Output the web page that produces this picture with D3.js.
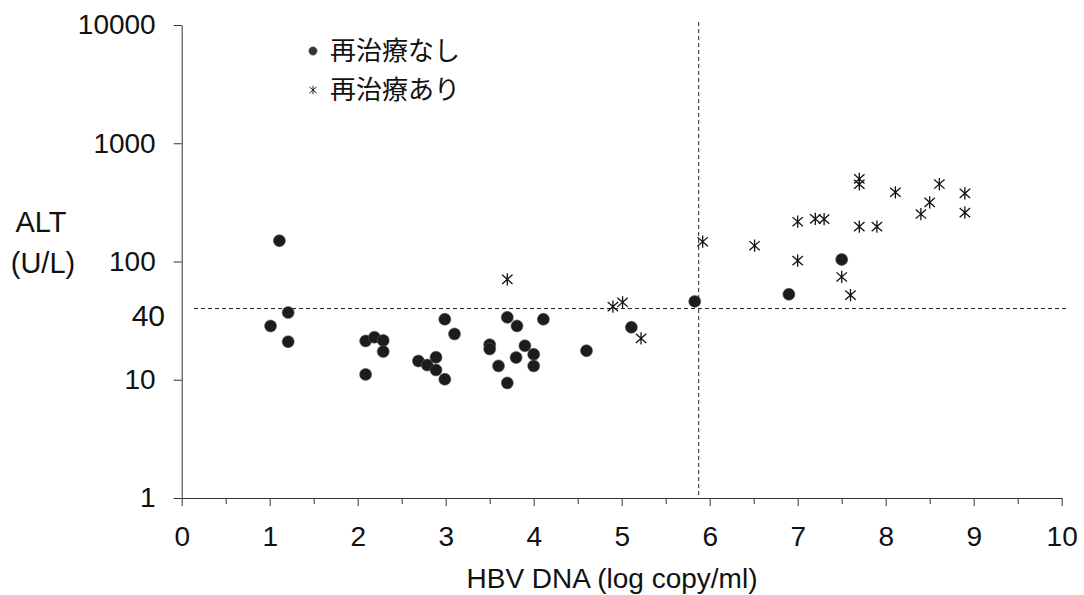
<!DOCTYPE html>
<html>
<head>
<meta charset="utf-8">
<script src="https://cdn.jsdelivr.net/npm/d3@7"></script>
<style>
  body { margin: 0; background: #fff; }
  svg { display: block; }
  text { font-family: "Liberation Sans", Arial, sans-serif; fill: #111; }
  .jp { font-family: "Noto Sans CJK JP", "Liberation Sans", sans-serif; }
  .axis path, .axis line { stroke: #333; stroke-width: 1; }
</style>
</head>
<body>
<div id="chart"></div>
<script>
// 再治療なし (circles)
const noRetreatX = [1.11, 1.21, 1.01, 1.21, 2.09, 2.19, 2.29, 2.29, 2.09, 2.69, 2.79, 2.89, 2.89, 2.99, 2.99, 3.10,
                    3.50, 3.50, 3.60, 3.70, 3.81, 4.11, 3.90, 3.80, 4.00, 4.00, 3.70, 4.60, 5.11, 5.83, 6.90, 7.50];
const noRetreatY = [150, 37, 28.5, 21, 21.3, 22.9, 21.5, 17.3, 11.1, 14.4, 13.3, 15.5, 12.1, 10.1, 32.5, 24.4,
                    19.8, 18.2, 13.1, 33.7, 28.5, 32.5, 19.4, 15.4, 16.4, 13.1, 9.4, 17.6, 27.8, 46, 52.8, 104];
// 再治療あり (stars)
const retreatX = [3.70, 4.90, 5.01, 5.22, 5.92, 6.51, 7.00, 7.00, 7.20, 7.30, 7.70, 7.70, 7.70, 7.90,
                  8.11, 8.61, 8.50, 8.40, 8.90, 8.90, 7.50, 7.60];
const retreatY = [70.7, 41.5, 45.2, 22.4, 147, 136, 217, 101.6, 229, 228, 500, 450, 197, 197,
                  385, 452, 316, 252, 377, 259, 74, 52];

const xTicks = [0, 1, 2, 3, 4, 5, 6, 7, 8, 9, 10];
const xMinorTicks = [0.5, 1.5, 2.5, 3.5, 4.5, 5.5, 6.5, 7.5, 8.5, 9.5];
const yTicks = [1, 10, 100, 1000, 10000];
const altCutoff = 40;
const dnaCutoff = 5.875;
const legendLabels = ["再治療なし", "再治療あり"];

const width = 1084, height = 595;
const x = d3.scaleLinear().domain([0, 10]).range([181.7, 1061.7]);
const y = d3.scaleLog().domain([1, 10000]).range([498, 25]);

const svg = d3.select("#chart").append("svg")
    .attr("width", width)
    .attr("height", height);

// asterisk marker: vertical bar plus an X
const star = {
    draw(ctx, size) {
        const r = Math.sqrt(size) / 2;
        ctx.moveTo(0, -r); ctx.lineTo(0, r);
        ctx.moveTo(-r * 0.85, -r * 0.75); ctx.lineTo(r * 0.85, r * 0.75);
        ctx.moveTo(-r * 0.85, r * 0.75); ctx.lineTo(r * 0.85, -r * 0.75);
    }
};

// reference lines
svg.append("line")
    .attr("x1", 194).attr("x2", 1066)
    .attr("y1", y(altCutoff)).attr("y2", y(altCutoff))
    .attr("stroke", "#222").attr("stroke-dasharray", "4,3");
svg.append("line")
    .attr("x1", x(dnaCutoff)).attr("x2", x(dnaCutoff))
    .attr("y1", 22).attr("y2", y(1))
    .attr("stroke", "#222").attr("stroke-dasharray", "4,3");

// axes
svg.append("g")
    .attr("class", "axis")
    .attr("transform", `translate(0,${y(1)})`)
    .call(d3.axisBottom(x).tickValues(xTicks).tickSize(8).tickSizeOuter(0).tickPadding(20)
        .tickFormat(d3.format("d")))
    .call(g => g.selectAll("text").attr("font-size", 28).attr("font-family", null));
svg.append("g")
    .attr("class", "axis")
    .attr("transform", `translate(0,${y(1)})`)
    .call(d3.axisBottom(x).tickValues(xMinorTicks).tickSize(6).tickFormat(""))
    .call(g => g.select(".domain").remove());
svg.append("g")
    .attr("class", "axis")
    .attr("transform", `translate(${x(0)},0)`)
    .call(d3.axisLeft(y).tickValues(yTicks).tickSize(8).tickSizeOuter(0).tickPadding(18)
        .tickFormat(d3.format("d")))
    .call(g => g.selectAll("text").attr("font-size", 28).attr("font-family", null));

// the 40 cutoff label
svg.append("text")
    .attr("x", 165).attr("y", y(altCutoff))
    .attr("dy", "0.58em")
    .attr("text-anchor", "end")
    .attr("font-size", 30)
    .text(altCutoff);

// axis titles
svg.append("text")
    .attr("x", 612).attr("y", 588)
    .attr("text-anchor", "middle")
    .attr("font-size", 28)
    .text("HBV DNA (log copy/ml)");
svg.append("text")
    .attr("x", 41).attr("y", 232)
    .attr("text-anchor", "middle")
    .attr("font-size", 29)
    .text("ALT");
svg.append("text")
    .attr("x", 43).attr("y", 273)
    .attr("text-anchor", "middle")
    .attr("font-size", 29)
    .text("(U/L)");

// points
const circles = noRetreatX.map((d, i) => ({x: d, y: noRetreatY[i]}));
const stars = retreatX.map((d, i) => ({x: d, y: retreatY[i]}));

svg.append("g").selectAll("circle")
    .data(circles)
    .enter()
    .append("circle")
    .attr("cx", d => x(d.x))
    .attr("cy", d => y(d.y))
    .attr("r", 6)
    .attr("fill", "#1c1c1c")
    .attr("stroke", "#555")
    .attr("stroke-width", 0.6);

svg.append("g").selectAll("path")
    .data(stars)
    .enter()
    .append("path")
    .attr("transform", d => `translate(${x(d.x)},${y(d.y)})`)
    .attr("d", d3.symbol().type(star).size(150))
    .attr("fill", "none")
    .attr("stroke", "#111")
    .attr("stroke-width", 1.3);

// legend
const legend = svg.selectAll(".legend")
    .data(legendLabels)
    .enter()
    .append("g")
    .attr("class", "legend")
    .attr("transform", (d, i) => `translate(313,${51 + i * 39})`);

legend.filter((d, i) => i === 0).append("circle")
    .attr("r", 4.2)
    .attr("fill", "#333")
    .attr("stroke", "#777")
    .attr("stroke-width", 0.6);
legend.filter((d, i) => i === 1).append("path")
    .attr("d", d3.symbol().type(star).size(70))
    .attr("fill", "none")
    .attr("stroke", "#222")
    .attr("stroke-width", 1);

legend.append("text")
    .attr("class", "jp")
    .attr("x", 17)
    .attr("dy", "0.36em")
    .attr("font-size", 26)
    .text(d => d);
</script>
</body>
</html>
